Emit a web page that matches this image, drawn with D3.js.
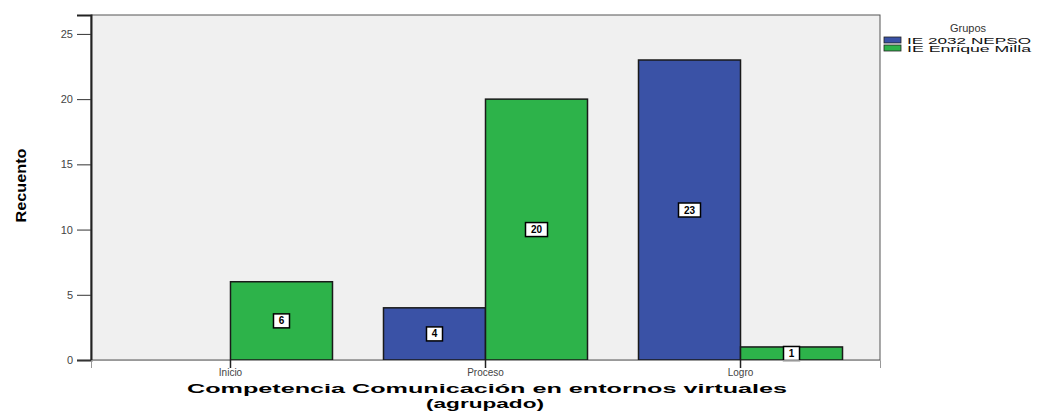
<!DOCTYPE html>
<meta charset="UTF-8">
<html>
<head>
<style>
html, body { margin:0; padding:0; background:#fff; }
svg text { font-family: "Liberation Sans", Arial, sans-serif; }
</style>
</head>
<body>
<svg width="1048" height="413"></svg>
<script src="https://d3js.org/d3.v7.min.js"></script>
<script>
// data
var categories = ["Inicio", "Proceso", "Logro"];
var groups = ["IE 2032 NEPSO", "IE Enrique Milla"];
var nepso = [0, 4, 23];
var milla = [6, 20, 1];
var yTicks = [0, 5, 10, 15, 20, 25];
var colors = ["#3a52a6", "#2db34a"];

var svg = d3.select("svg");
var pLeft = 91, pRight = 880, pTop = 15, pBottom = 360;

var x = d3.scaleBand().domain(categories).range([pLeft, pRight])
  .paddingInner(0).paddingOuter(0.047);
var y = d3.scaleLinear().domain([0, 26.45]).range([pBottom, pTop]);

var barW = x.bandwidth() * 0.4;
var xs = d3.scaleBand().domain(groups).range([0, barW * 2]);

// plot background
svg.append("rect")
  .attr("x", pLeft).attr("y", pTop)
  .attr("width", pRight - pLeft).attr("height", pBottom - pTop)
  .attr("fill", "#f0f0f0")
  .attr("stroke", "#555").attr("stroke-width", 1);

var rows = [];
categories.forEach(function(c, i) {
  rows.push({cat: c, g: groups[0], v: nepso[i], k: 0});
  rows.push({cat: c, g: groups[1], v: milla[i], k: 1});
});
rows = rows.filter(function(d) { return d.v > 0; });

function bx(d) { return x(d.cat) + x.bandwidth() / 2 - barW + xs(d.g); }

svg.append("g").selectAll("rect")
  .data(rows).enter().append("rect")
  .attr("x", bx)
  .attr("y", function(d) { return y(d.v); })
  .attr("width", xs.bandwidth())
  .attr("height", function(d) { return y(0) - y(d.v); })
  .attr("fill", function(d) { return colors[d.k]; })
  .attr("stroke", "#1a1a1a").attr("stroke-width", 1.5);

// value labels
var lab = svg.append("g").selectAll("g")
  .data(rows).enter().append("g")
  .attr("transform", function(d) {
    return "translate(" + (bx(d) + xs.bandwidth() / 2) + "," + ((y(d.v) + y(0)) / 2) + ")";
  });
lab.append("rect")
  .attr("x", function(d) { return d.v >= 10 ? -11 : -8; })
  .attr("y", -7)
  .attr("width", function(d) { return d.v >= 10 ? 22 : 16; })
  .attr("height", 14)
  .attr("fill", "#fff").attr("stroke", "#000").attr("stroke-width", 1.5);
lab.append("text")
  .attr("text-anchor", "middle").attr("dy", "0.35em")
  .attr("font-size", 10).attr("font-weight", "bold")
  .text(function(d) { return d.v; });

// axes
var ya = svg.append("g")
  .attr("transform", "translate(" + pLeft + ",0)")
  .call(d3.axisLeft(y).tickValues(yTicks).tickSize(14).tickPadding(4));
ya.select(".domain").attr("stroke", "#222").attr("stroke-width", 2);
ya.selectAll("line").attr("stroke", "#333");
ya.selectAll("text").attr("font-size", 11).attr("fill", "#444")
  .attr("font-family", "Liberation Sans, Arial, sans-serif");

var xa = svg.append("g")
  .attr("transform", "translate(0," + pBottom + ")")
  .call(d3.axisBottom(x).tickSize(8).tickPadding(1));
xa.select(".domain").attr("stroke", "#999").attr("stroke-width", 1);
xa.selectAll("line").attr("stroke", "#222").attr("stroke-width", 1.5);
xa.selectAll("text").attr("font-size", 10).attr("fill", "#444")
  .attr("font-family", "Liberation Sans, Arial, sans-serif");

// axis titles
svg.append("text")
  .attr("transform", "translate(26," + ((pTop + pBottom) / 2 - 2) + ") rotate(-90)")
  .attr("text-anchor", "middle")
  .attr("font-size", 14).attr("font-weight", "bold")
  .attr("textLength", 74).attr("lengthAdjust", "spacingAndGlyphs")
  .text("Recuento");

svg.append("text")
  .attr("x", 487).attr("y", 393)
  .attr("text-anchor", "middle")
  .attr("font-size", 13).attr("font-weight", "bold")
  .attr("textLength", 600).attr("lengthAdjust", "spacingAndGlyphs")
  .text("Competencia Comunicación en entornos virtuales");
svg.append("text")
  .attr("x", 485).attr("y", 408)
  .attr("text-anchor", "middle")
  .attr("font-size", 13).attr("font-weight", "bold")
  .attr("textLength", 118).attr("lengthAdjust", "spacingAndGlyphs")
  .text("(agrupado)");

// legend
var leg = svg.append("g");
leg.append("text")
  .attr("x", 968).attr("y", 32)
  .attr("text-anchor", "middle")
  .attr("font-size", 11).attr("fill", "#333")
  .text("Grupos");
groups.forEach(function(g, i) {
  leg.append("rect")
    .attr("x", 884).attr("y", 37 + i * 8)
    .attr("width", 17).attr("height", 6)
    .attr("fill", colors[i]).attr("stroke", "#222").attr("stroke-width", 0.8);
  leg.append("text")
    .attr("x", 907).attr("y", 44 + i * 8)
    .attr("font-size", 9).attr("fill", "#111")
    .attr("textLength", 124).attr("lengthAdjust", "spacingAndGlyphs")
    .text(g);
});
</script>
</body>
</html>
